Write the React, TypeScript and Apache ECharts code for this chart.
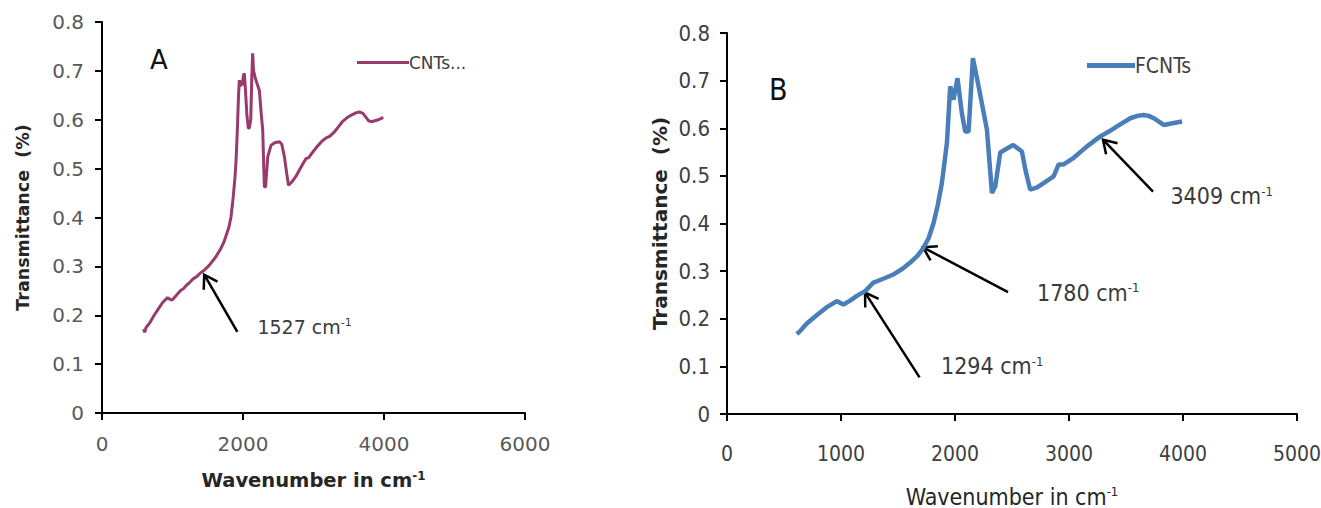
import React, { useEffect, useRef } from "react";
import * as echarts from "echarts";

// ---- Data: panel A (CNTs) ----
const cntsWavenumber = [
  590, 605, 625, 680, 740, 800, 860, 929, 970, 995, 1050, 1110, 1160, 1200, 1237, 1290, 1350, 1400, 1450, 1520,
  1580, 1616, 1680, 1730, 1758, 1800, 1830, 1860, 1885, 1901, 1920, 1936, 1948, 1960, 1975, 1990, 2005, 2019, 2035,
  2055, 2075, 2090, 2110, 2125, 2137, 2150, 2175, 2232, 2260, 2280, 2295, 2303, 2320, 2351, 2398, 2450, 2517, 2550,
  2588, 2620, 2645, 2700, 2750, 2800, 2850, 2896, 2930, 2980, 3050, 3120, 3180, 3228, 3290, 3350, 3410, 3465, 3530,
  3600, 3650, 3701, 3740, 3780, 3820, 3870, 3920, 3962, 3990,
];
const cntsTransmittance = [
  0.172, 0.165, 0.175, 0.185, 0.2, 0.213, 0.226, 0.236, 0.232, 0.231, 0.24, 0.25, 0.255, 0.262, 0.266, 0.274, 0.28,
  0.287, 0.292, 0.302, 0.313, 0.32, 0.335, 0.35, 0.362, 0.38, 0.401, 0.44, 0.48, 0.515, 0.58, 0.647, 0.681, 0.668,
  0.68, 0.67, 0.69, 0.695, 0.66, 0.61, 0.583, 0.583, 0.6, 0.69, 0.736, 0.7, 0.685, 0.66, 0.61, 0.578, 0.5, 0.463,
  0.462, 0.524, 0.548, 0.553, 0.555, 0.55, 0.524, 0.49, 0.466, 0.474, 0.484, 0.497, 0.51, 0.521, 0.522, 0.532, 0.545,
  0.556, 0.563, 0.566, 0.574, 0.585, 0.596, 0.603, 0.609, 0.614, 0.616, 0.613, 0.606, 0.598, 0.596, 0.598, 0.6, 0.603,
  0.605,
];

// ---- Data: panel B (FCNTs) ----
const fcntsWavenumber = [
  612, 641, 700, 760, 817, 880, 963, 1022, 1080, 1139, 1212, 1285, 1370, 1460, 1540, 1607, 1670, 1724, 1770, 1812,
  1850, 1885, 1929, 1958, 1987, 2022, 2060, 2090, 2119, 2157, 2207, 2280, 2324, 2353, 2397, 2460, 2511, 2587, 2620,
  2660, 2720, 2777, 2865, 2909, 2953, 3041, 3158, 3275, 3350, 3421, 3538, 3600, 3655, 3700, 3743, 3831, 3919, 3992,
];
const fcntsTransmittance = [
  0.168, 0.174, 0.19, 0.202, 0.213, 0.225, 0.237, 0.23, 0.238, 0.248, 0.258, 0.276, 0.284, 0.293, 0.305, 0.318,
  0.332, 0.349, 0.37, 0.401, 0.44, 0.485, 0.569, 0.688, 0.66, 0.705, 0.632, 0.593, 0.593, 0.747, 0.688, 0.597, 0.464,
  0.478, 0.549, 0.558, 0.565, 0.551, 0.51, 0.471, 0.476, 0.485, 0.499, 0.524, 0.524, 0.538, 0.562, 0.583, 0.593,
  0.604, 0.621, 0.626, 0.628, 0.626, 0.621, 0.607, 0.611, 0.614,
];

// ---- Labels ----
const panelLabels = ["A", "B"];
const seriesNames = ["CNTs...", "FCNTs"];
const yAxisName = "Transmittance  (%)";
const xAxisName = "Wavenumber in cm";

// Annotations: wavenumber label, arrow tip, arrow tail, text anchor — in data units
const annotationsA = [{ label: "1527", tip: [1450, 0.283], tail: [1920, 0.166], text: [2204, 0.176] }];
const annotationsB = [
  { label: "1294", tip: [1211, 0.255], tail: [1689, 0.077], text: [1877, 0.1] },
  { label: "1780", tip: [1719, 0.35], tail: [2465, 0.256], text: [2719, 0.255] },
  { label: "3409", tip: [3298, 0.576], tail: [3737, 0.467], text: [3890, 0.457] },
];

const COLOR_A = "#983a6c";
const COLOR_B = "#4a7ebb";
const WIDE = "DejaVu Sans, Verdana, sans-serif";
const NARROW = "Liberation Sans Narrow, DejaVu Sans Condensed, sans-serif";

export default function App() {
  const ref = useRef<HTMLDivElement>(null);

  useEffect(() => {
    document.body.style.margin = "0";
    const chart = echarts.init(ref.current!, null, { renderer: "svg" });

    const pairs = (xs: number[], ys: number[]) => xs.map((x, i) => [x, ys[i]]);
    const plain = (v: number) => String(v);

    const axisCommon = {
      axisLine: { show: true, onZero: false, lineStyle: { color: "#000", width: 2 } },
      axisTick: { show: true, inside: false, length: 7, lineStyle: { color: "#000", width: 2 } },
      splitLine: { show: false },
    };

    chart.setOption({
      animation: false,
      backgroundColor: "#fff",
      legend: [
        {
          data: [seriesNames[0]],
          left: 352,
          top: 49,
          icon: "rect",
          itemWidth: 52,
          itemHeight: 3,
          textStyle: { fontFamily: WIDE, fontSize: 17, color: "#404040", padding: [0, 0, 0, -5] },
        },
        {
          data: [seriesNames[1]],
          left: 1082,
          top: 50,
          icon: "rect",
          itemWidth: 48,
          itemHeight: 5,
          textStyle: { fontFamily: NARROW, fontSize: 21, color: "#404040", padding: [0, 0, 0, -5] },
        },
      ],
      grid: [
        { left: 102, right: 796, top: 22, bottom: 95, outerBoundsMode: "none", containLabel: false },
        { left: 727, right: 24, top: 33, bottom: 94, outerBoundsMode: "none", containLabel: false },
      ],
      xAxis: [
        {
          ...axisCommon,
          type: "value",
          gridIndex: 0,
          min: 0,
          max: 6000,
          interval: 2000,
          axisLabel: { fontFamily: WIDE, fontSize: 20, color: "#595959", margin: 21, formatter: plain },
          name: `${xAxisName}{sup|-1}`,
          nameLocation: "middle",
          nameGap: 57,
          nameTextStyle: {
            fontFamily: WIDE,
            fontSize: 19.5,
            fontWeight: "bold",
            color: "#262626",
            rich: { sup: { fontFamily: WIDE, fontSize: 12, fontWeight: "bold", verticalAlign: "top", color: "#262626" } },
          },
        },
        {
          ...axisCommon,
          type: "value",
          gridIndex: 1,
          min: 0,
          max: 5000,
          interval: 1000,
          axisLabel: { fontFamily: NARROW, fontSize: 21, color: "#404040", margin: 29, formatter: plain },
          name: `${xAxisName}{sup|-1}`,
          nameLocation: "middle",
          nameGap: 71,
          nameTextStyle: {
            fontFamily: NARROW,
            fontSize: 23,
            color: "#262626",
            rich: { sup: { fontFamily: NARROW, fontSize: 13, verticalAlign: "top", color: "#262626" } },
          },
        },
      ],
      yAxis: [
        {
          ...axisCommon,
          type: "value",
          gridIndex: 0,
          min: 0,
          max: 0.8,
          interval: 0.1,
          axisLabel: { fontFamily: WIDE, fontSize: 20, color: "#595959", margin: 18 },
          name: yAxisName,
          nameLocation: "middle",
          nameGap: 70,
          nameTextStyle: { fontFamily: WIDE, fontSize: 17.5, fontWeight: "bold", color: "#262626" },
        },
        {
          ...axisCommon,
          type: "value",
          gridIndex: 1,
          min: 0,
          max: 0.8,
          interval: 0.1,
          axisLabel: { fontFamily: NARROW, fontSize: 22, color: "#404040", margin: 17 },
          name: yAxisName,
          nameLocation: "middle",
          nameGap: 57,
          nameTextStyle: { fontFamily: WIDE, fontSize: 20, fontWeight: "bold", color: "#262626" },
        },
      ],
      series: [
        {
          name: seriesNames[0],
          type: "line",
          xAxisIndex: 0,
          yAxisIndex: 0,
          data: pairs(cntsWavenumber, cntsTransmittance),
          showSymbol: false,
          symbol: "none",
          lineStyle: { color: COLOR_A, width: 3 },
          itemStyle: { color: COLOR_A },
        },
        {
          name: seriesNames[1],
          type: "line",
          xAxisIndex: 1,
          yAxisIndex: 1,
          data: pairs(fcntsWavenumber, fcntsTransmittance),
          showSymbol: false,
          symbol: "none",
          lineStyle: { color: COLOR_B, width: 4.5 },
          itemStyle: { color: COLOR_B },
        },
      ],
    });

    // Annotations (arrows + labels) positioned through the chart's own scales
    const graphics: any[] = [];
    const addArrows = (
      list: { label: string; tip: number[]; tail: number[]; text: number[] }[],
      gridIndex: number,
      font: string,
      size: number,
      supSize: number
    ) => {
      list.forEach((a) => {
        const p = chart.convertToPixel({ gridIndex }, a.tip) as number[];
        const q = chart.convertToPixel({ gridIndex }, a.tail) as number[];
        const t = chart.convertToPixel({ gridIndex }, a.text) as number[];
        const dx = p[0] - q[0];
        const dy = p[1] - q[1];
        const len = Math.hypot(dx, dy);
        const ux = dx / len;
        const uy = dy / len;
        const L = 15;
        const th = (32 * Math.PI) / 180;
        const rot = (ang: number) => [
          p[0] - L * (ux * Math.cos(ang) - uy * Math.sin(ang)),
          p[1] - L * (ux * Math.sin(ang) + uy * Math.cos(ang)),
        ];
        graphics.push({
          type: "line",
          shape: { x1: q[0], y1: q[1], x2: p[0], y2: p[1] },
          style: { stroke: "#000", lineWidth: 2.5 },
          silent: true,
        });
        graphics.push({
          type: "polyline",
          shape: { points: [rot(th), p, rot(-th)] },
          style: { stroke: "#000", lineWidth: 2.5, fill: null },
          silent: true,
        });
        graphics.push({
          type: "text",
          x: t[0],
          y: t[1],
          silent: true,
          style: {
            text: `${a.label} cm{sup|-1}`,
            fill: "#3a3a3a",
            fontFamily: font,
            fontSize: size,
            verticalAlign: "middle",
            align: "left",
            rich: { sup: { fontFamily: font, fontSize: supSize, verticalAlign: "top", fill: "#3a3a3a" } },
          },
        });
      });
    };
    addArrows(annotationsA, 0, WIDE, 19, 11);
    addArrows(annotationsB, 1, NARROW, 23, 13);

    graphics.push({
      type: "text",
      left: 150,
      top: 47,
      silent: true,
      style: { text: panelLabels[0], fontFamily: WIDE, fontSize: 26, fill: "#111" },
    });
    graphics.push({
      type: "text",
      left: 769,
      top: 74,
      silent: true,
      style: { text: panelLabels[1], fontFamily: NARROW, fontSize: 30, fill: "#111" },
    });

    chart.setOption({ graphic: graphics });

    return () => chart.dispose();
  }, []);

  return <div ref={ref} style={{ width: 1321, height: 508 }} />;
}
